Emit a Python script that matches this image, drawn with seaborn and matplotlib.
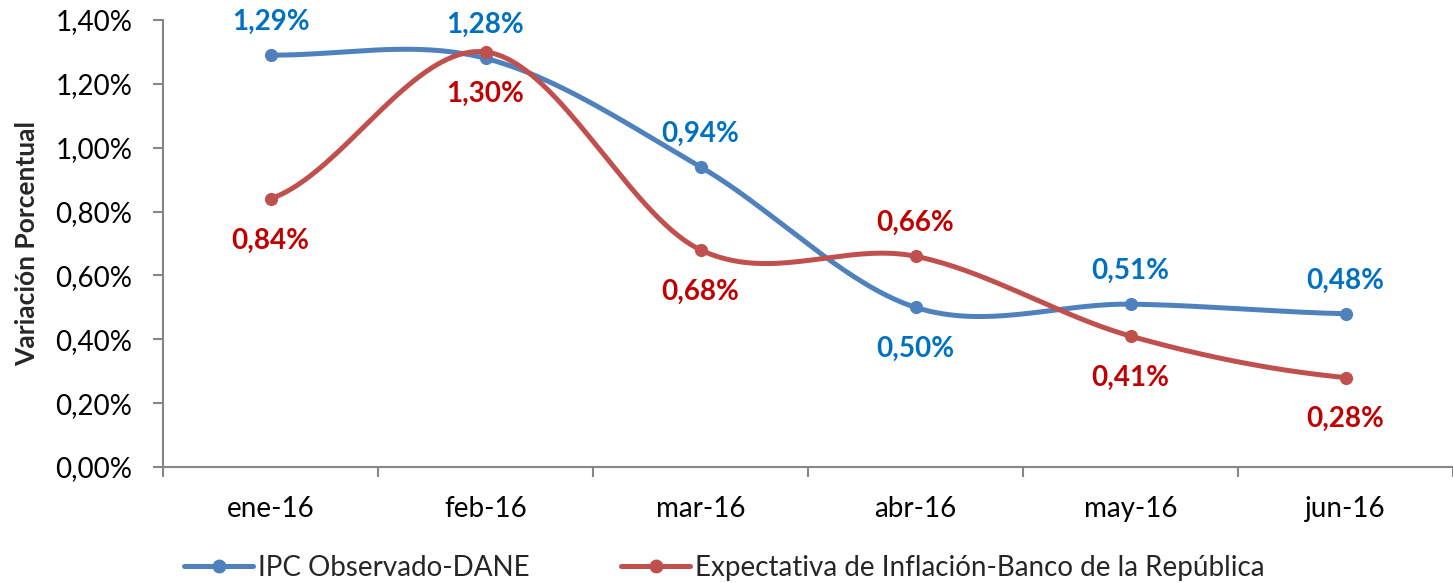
import matplotlib

matplotlib.use("Agg")
import matplotlib.pyplot as plt
import numpy as np
import pandas as pd
import seaborn as sns
from matplotlib.lines import Line2D
from matplotlib.ticker import FuncFormatter, MultipleLocator

months = ["ene-16", "feb-16", "mar-16", "abr-16", "may-16", "jun-16"]
ipc_dane = [1.29, 1.28, 0.94, 0.50, 0.51, 0.48]
expectativa_br = [0.84, 1.30, 0.68, 0.66, 0.41, 0.28]

# label above (+1) or below (-1) the point
ipc_label_side = [1, 1, 1, -1, 1, 1]
exp_label_side = [-1, -1, -1, 1, -1, -1]

series_names = ["IPC Observado-DANE", "Expectativa de Inflación-Banco de la República"]
line_colors = ["#4F81BD", "#C0504D"]
label_colors = ["#0070C0", "#C00000"]


def smooth_curve(values, steps=40):
    # Excel-like smoothed line: cubic Bezier through points, Catmull-Rom tangents
    y = np.asarray(values, dtype=float)
    n = len(y)
    x = np.arange(n, dtype=float)
    xs, ys = [], []
    for i in range(n - 1):
        y0 = y[i - 1] if i > 0 else y[i]
        y3 = y[i + 2] if i + 2 < n else y[i + 1]
        t0 = (y[i + 1] - y0) / 6
        t1 = (y3 - y[i]) / 6
        c1, c2 = y[i] + t0, y[i + 1] - t1
        t = np.linspace(0, 1, steps)
        b = ((1 - t) ** 3 * y[i] + 3 * (1 - t) ** 2 * t * c1
             + 3 * (1 - t) * t ** 2 * c2 + t ** 3 * y[i + 1])
        xs.append(x[i] + t)
        ys.append(b)
    return np.concatenate(xs), np.concatenate(ys)


sns.set_theme(style="white")
plt.rcParams["font.family"] = ["Lato", "DejaVu Sans"]

fig = plt.figure(figsize=(14.53, 5.83), dpi=100)
ax = fig.add_axes([0.1122, 0.199, 0.8878, 0.7667])

for values, sides, name, lc, tc in zip(
    [ipc_dane, expectativa_br],
    [ipc_label_side, exp_label_side],
    series_names,
    line_colors,
    label_colors,
):
    sx, sy = smooth_curve(values)
    curve = pd.DataFrame({"x": sx, "y": sy})
    sns.lineplot(data=curve, x="x", y="y", ax=ax, color=lc, linewidth=3.6,
                 estimator=None, sort=False, legend=False)
    pts = pd.DataFrame({"x": np.arange(len(values)), "y": values})
    sns.scatterplot(data=pts, x="x", y="y", ax=ax, color=lc, s=90,
                    edgecolor=lc, linewidth=0, legend=False, zorder=3)
    for i, (v, side) in enumerate(zip(values, sides)):
        ax.annotate(f"{v:.2f}%".replace(".", ","), (i, v),
                    xytext=(0, 24 if side > 0 else -30), textcoords="offset points",
                    ha="center", va="center", fontsize=20, fontweight="bold",
                    color=tc)

ax.set_xlim(-0.5, len(months) - 0.5)
ax.set_ylim(0, 1.4)
ax.yaxis.set_major_locator(MultipleLocator(0.2))
ax.yaxis.set_major_formatter(FuncFormatter(lambda v, p: f"{v:.2f}%".replace(".", ",")))
ax.set_xticks(range(len(months)))
ax.set_xticklabels(months)
ax.set_xticks(np.arange(-0.5, len(months)), minor=True)
ax.tick_params(axis="x", which="major", length=0, pad=21, labelsize=20, labelcolor="black")
ax.tick_params(axis="x", which="minor", length=7, width=1.5, color="#868686", direction="out")
ax.tick_params(axis="y", which="major", length=7, width=1.5, color="#868686",
               direction="out", pad=15, labelsize=20, labelcolor="black")
ax.xaxis.set_ticks_position("bottom")
ax.yaxis.set_ticks_position("left")
ax.set_xlabel("")
ax.set_ylabel("Variación Porcentual", fontsize=19, fontweight="bold", labelpad=12)

for side in ["top", "right"]:
    ax.spines[side].set_visible(False)
for side in ["left", "bottom"]:
    ax.spines[side].set_color("#868686")
    ax.spines[side].set_linewidth(1.5)
ax.grid(False)

handles = [
    Line2D([0], [0], color=c, linewidth=3.6, marker="o", markersize=9) for c in line_colors
]
fig.legend(handles, series_names, loc="center left", bbox_to_anchor=(0.119, 0.026),
           ncol=2, frameon=False, fontsize=20, handlelength=2.5, handletextpad=0.15,
           columnspacing=3.3, borderaxespad=0)

fig.savefig("out.png", dpi=100)
